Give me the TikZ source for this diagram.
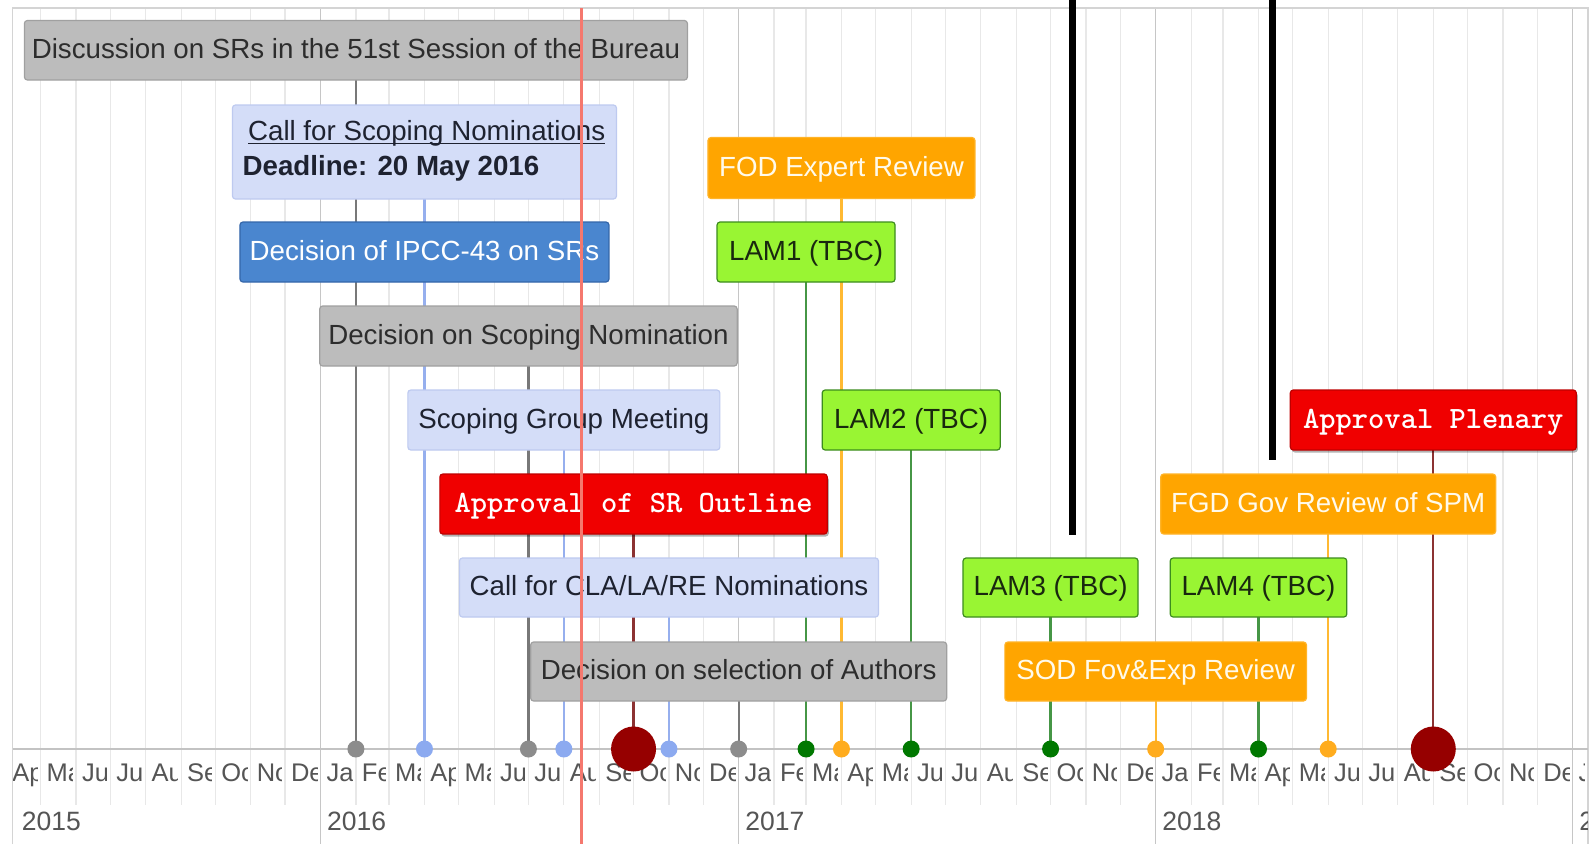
\documentclass[tikz,border=0pt]{standalone}
\usepackage{fontspec}
\setmainfont{Liberation Sans}
\usetikzlibrary{shadows}
\definecolor{gridc}{RGB}{232,232,232}
\definecolor{yearc}{RGB}{198,198,198}
\definecolor{framec}{RGB}{212,212,212}
\definecolor{axisc}{RGB}{195,195,195}
\definecolor{labc}{RGB}{85,85,85}
\definecolor{grayfill}{RGB}{188,188,188}
\definecolor{grayline}{RGB}{160,160,160}
\definecolor{graytext}{RGB}{45,45,45}
\definecolor{lbfill}{RGB}{212,221,248}
\definecolor{lbline}{RGB}{190,202,240}
\definecolor{lbtext}{RGB}{30,34,48}
\definecolor{bfill}{RGB}{74,134,207}
\definecolor{bline}{RGB}{52,102,170}
\definecolor{ofill}{RGB}{255,165,0}
\definecolor{oline}{RGB}{255,180,40}
\definecolor{otext}{RGB}{255,250,235}
\definecolor{gfill}{RGB}{153,245,51}
\definecolor{gline}{RGB}{60,140,30}
\definecolor{gtext}{RGB}{25,40,15}
\definecolor{rfill}{RGB}{240,0,0}
\definecolor{rline}{RGB}{190,0,0}
\definecolor{dotgray}{RGB}{140,140,140}
\definecolor{dotlb}{RGB}{140,170,240}
\definecolor{dotg}{RGB}{0,120,0}
\definecolor{doto}{RGB}{255,172,30}
\definecolor{dotr}{RGB}{150,0,0}
\definecolor{stgray}{RGB}{120,120,120}
\definecolor{stlb}{RGB}{150,175,238}
\definecolor{stg}{RGB}{70,150,70}
\definecolor{sto}{RGB}{255,185,50}
\definecolor{str}{RGB}{140,50,50}
\definecolor{nowc}{RGB}{245,120,110}
\newcommand\ulx[1]{\setbox0\hbox{#1}\rlap{\rule[-4pt]{\wd0}{1.4pt}}\box0}
\pgfdeclarelayer{gridl}
\pgfdeclarelayer{steml}
\pgfdeclarelayer{topl}
\pgfsetlayers{gridl,steml,main,topl}
\tikzset{
  bx/.style={rectangle, rounded corners=3pt, inner sep=0pt, outer sep=0pt, line width=1.2pt, font=\fontsize{27.7pt}{32pt}\selectfont},
  onel/.style={text height=19.8pt, text depth=3.1pt},
  grayb/.style={bx,onel,fill=grayfill,draw=grayline,text=graytext},
  lbb/.style={bx,fill=lbfill,draw=lbline,text=lbtext},
  blueb/.style={bx,onel,fill=bfill,draw=bline,text=white},
  orb/.style={bx,onel,fill=ofill,draw=oline,text=otext},
  grb/.style={bx,onel,fill=gfill,draw=gline,text=gtext},
  redb/.style={bx,fill=rfill,draw=rline,text=white,font=\fontsize{31pt}{34pt}\selectfont\ttfamily\bfseries,
     text height=19pt, text depth=2.6pt,
     drop shadow={shadow xshift=1.5pt,shadow yshift=-2.5pt,opacity=0.3,fill=black}},
  sz/.style 2 args={minimum width=#1pt, minimum height=#2pt},
  tdot/.style={circle, inner sep=0pt, outer sep=0pt, minimum size=17pt},
  bigdot/.style={circle, inner sep=0pt, outer sep=0pt, minimum size=45pt, fill=dotr},
  stemln/.style={line width=2.2pt},
  mlab/.style={anchor=base west, inner sep=0pt, outer sep=0pt, font=\fontsize{25.5pt}{28pt}\selectfont, text=labc},
  ylab/.style={anchor=base west, inner sep=0pt, outer sep=0pt, font=\fontsize{26.5pt}{30pt}\selectfont, text=labc},
}
\begin{document}
\begin{tikzpicture}[x=1pt,y=-1pt]
\useasboundingbox (0,0) rectangle (1595,844);
\clip (0,0) rectangle (1595,844);
\begin{pgfonlayer}{gridl}
  \fill[white] (0,0) rectangle (1595,844);
  \foreach \d in {-245,-214,-184,-153,-122,-92,-61,-31,31,60,91,121,152,182,213,244,274,305,335,397,425,456,486,517,547,578,609,639,670,700,762,790,821,851,882,912,943,974,1004,1035,1065}{
    \draw[gridc, line width=1.2pt] ({320.5+1.1425*\d},8) -- ({320.5+1.1425*\d},805);
  }
  \foreach \d in {0,366,731,1096}{
    \draw[yearc, line width=1.4pt] ({320.5+1.1425*\d},8) -- ({320.5+1.1425*\d},844);
  }
  \draw[framec, line width=1.5pt] (12.7,844) -- (12.7,8) -- (1588,8) -- (1588,844);
  \draw[axisc, line width=1.5pt] (12.7,749) -- (1588,749);
  \foreach \s/\e/\m [count=\i] in {-275/-245/Apr,-245/-214/May,-214/-184/Jun,-184/-153/Jul,-153/-122/Aug,-122/-92/Sep,-92/-61/Oct,-61/-31/Nov,-31/0/Dec,0/31/Jan,31/60/Feb,60/91/Mar,91/121/Apr,121/152/May,152/182/Jun,182/213/Jul,213/244/Aug,244/274/Sep,274/305/Oct,305/335/Nov,335/366/Dec,366/397/Jan,397/425/Feb,425/456/Mar,456/486/Apr,486/517/May,517/547/Jun,547/578/Jul,578/609/Aug,609/639/Sep,639/670/Oct,670/700/Nov,700/731/Dec,731/762/Jan,762/790/Feb,790/821/Mar,821/851/Apr,851/882/May,882/912/Jun,912/943/Jul,943/974/Aug,974/1004/Sep,1004/1035/Oct,1035/1065/Nov,1065/1096/Dec,1096/1109.4/Jan}{
    \pgfmathsetmacro\xs{320.5+1.1425*\s}
    \pgfmathsetmacro\xe{320.5+1.1425*\e}
    \pgfmathsetmacro\xc{max(\xs+1,13.5)}
    \begin{scope}
      \clip (\xc,752) rectangle (\xe-3.5,800);
      \node[mlab] (ml\i) at (\xs+6,781.5) {\m};
    \end{scope}
  }
  \node[ylab] (y15) at (21.9,830) {2015};
  \node[ylab] (y16) at (327.2,830) {2016};
  \node[ylab] (y17) at (745.4,830) {2017};
  \node[ylab] (y18) at (1162.4,830) {2018};
  \begin{scope}
    \clip (1573,800) rectangle (1587,844);
    \node[ylab] (y19) at (1579.4,830) {2019};
  \end{scope}
\end{pgfonlayer}

% boxes
\node[grayb, sz={663}{59.5}] (b1) at (355.92,50.25) {Discussion on SRs in the 51st Session of the Bureau};
\node[lbb, sz={384}{94}, align=left, font=\fontsize{27.7pt}{35.5pt}\selectfont] (b2) at (424.47,152) {\hspace*{5.5pt}\ulx{Call for Scoping Nominations}\hspace*{1pt}\\\textbf{Deadline: 20 May 2016}\rule[-8.2pt]{0pt}{1pt}};
\node[blueb, sz={369}{60}] (b3) at (424.47,252) {Decision of IPCC-43 on SRs};
\node[grayb, sz={417.5}{60}] (b4) at (528.44,336) {Decision on Scoping Nomination};
\node[lbb, onel, sz={312}{60}] (b5) at (563.85,420) {Scoping Group Meeting};
\node[redb, sz={387.4}{60}] (b6) at (633.55,504) {Approval of SR Outline};
\node[lbb, onel, sz={419}{59}] (b7) at (668.96,587.5) {Call for CLA/LA/RE Nominations};
\node[grayb, sz={416}{59}] (b8) at (738.66,671.5) {Decision on selection of Authors};
\node[orb, sz={267}{61}] (b9) at (841.48,168) {FOD Expert Review};
\node[grb, sz={178}{60}] (b10) at (806.06,252) {LAM1 (TBC)};
\node[grb, sz={178}{60}] (b11) at (911.17,420) {LAM2 (TBC)};
\node[redb, sz={286}{60}] (b12) at (1433.3,420) {Approval Plenary};
\node[orb, sz={335}{60}] (b13) at (1328.19,504) {FGD Gov Review of SPM};
\node[grb, sz={175}{59}] (b14) at (1050.56,587.5) {LAM3 (TBC)};
\node[grb, sz={176.6}{59}] (b15) at (1258.49,587.5) {LAM4 (TBC)};
\node[orb, sz={301.6}{59}] (b16) at (1155.67,671.5) {SOD Fov\&Exp Review};

% dots
\node[tdot, fill=dotgray] (d1) at (355.92,749) {};
\node[tdot, fill=dotlb] (d2) at (424.47,749) {};
\node[tdot, fill=dotgray] (d4) at (528.44,749) {};
\node[tdot, fill=dotlb] (d5) at (563.85,749) {};
\node[bigdot] (d6) at (633.55,749) {};
\node[tdot, fill=dotlb] (d7) at (668.96,749) {};
\node[tdot, fill=dotgray] (d8) at (738.66,749) {};
\node[tdot, fill=doto] (d9) at (841.48,749) {};
\node[tdot, fill=dotg] (d10) at (806.06,749) {};
\node[tdot, fill=dotg] (d11) at (911.17,749) {};
\node[bigdot] (d12) at (1433.3,749) {};
\node[tdot, fill=doto] (d13) at (1328.19,749) {};
\node[tdot, fill=dotg] (d14) at (1050.56,749) {};
\node[tdot, fill=dotg] (d15) at (1258.49,749) {};
\node[tdot, fill=doto] (d16) at (1155.67,749) {};

\begin{pgfonlayer}{steml}
  \draw[stemln, stgray] (b1.south) -- (d1);
  \draw[stemln, stlb] (b2.south) -- (d2);
  \draw[stemln, stgray] (b4.south) -- (d4);
  \draw[stemln, stlb] (b5.south) -- (d5);
  \draw[stemln, str] (b6.south) -- (d6);
  \draw[stemln, stlb] (b7.south) -- (d7);
  \draw[stemln, stgray] (b8.south) -- (d8);
  \draw[stemln, sto] (b9.south) -- (d9);
  \draw[stemln, stg] (b10.south) -- (d10);
  \draw[stemln, stg] (b11.south) -- (d11);
  \draw[stemln, str] (b12.south) -- (d12);
  \draw[stemln, sto] (b13.south) -- (d13);
  \draw[stemln, stg] (b14.south) -- (d14);
  \draw[stemln, stg] (b15.south) -- (d15);
  \draw[stemln, sto] (b16.south) -- (d16);
\end{pgfonlayer}

\begin{pgfonlayer}{topl}
  \coordinate (nowtop) at (581.5,8);
  \coordinate (nowbot) at (581.5,844);
  \draw[nowc, line width=3pt] (nowtop) -- (nowbot);
  \coordinate (k1t) at (1072,0);
  \coordinate (k1b) at (1072,535);
  \coordinate (k2t) at (1272,0);
  \coordinate (k2b) at (1272,460);
  \draw[black, line width=7pt] (k1t) -- (k1b);
  \draw[black, line width=7pt] (k2t) -- (k2b);
\end{pgfonlayer}
\end{tikzpicture}
\end{document}
